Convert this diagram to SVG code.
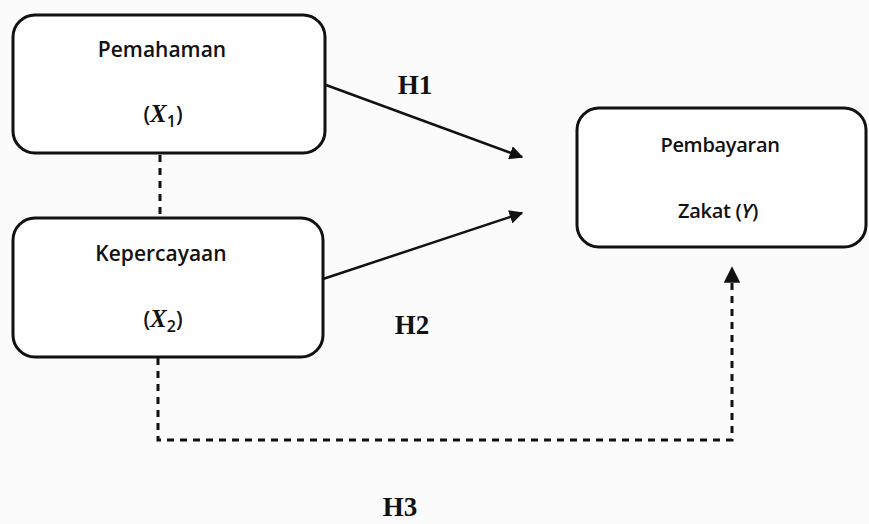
<svg xmlns="http://www.w3.org/2000/svg" width="869" height="524" viewBox="0 0 869 524">
<defs>
<marker id="ah" viewBox="0 0 10 10" refX="9" refY="5" markerWidth="5.5" markerHeight="5.5" orient="auto" markerUnits="strokeWidth">
<path d="M0,0 L10,5 L0,10 z" fill="#111"/>
</marker>
<style>
.box{fill:#fff;stroke:#111;stroke-width:3}
.lbl{font-family:"Open Sans","Liberation Sans",sans-serif;font-size:21px;font-weight:600;fill:#111;text-anchor:middle}
.lblS{font-family:"Open Sans","Liberation Sans",sans-serif;font-size:20px;font-weight:600;fill:#111;text-anchor:middle;letter-spacing:-0.3px}
.h{font-family:"Liberation Serif",serif;font-size:27px;font-weight:bold;fill:#111;text-anchor:middle}
.solid{fill:none;stroke:#111;stroke-width:2.5}
.dash{fill:none;stroke:#111;stroke-width:3;stroke-dasharray:7,6}
</style>
</defs>
<rect width="869" height="524" fill="#fbfbfb"/>
<g id="connectors">
<line class="solid" x1="326" y1="85" x2="522" y2="157" marker-end="url(#ah)"/>
<line class="solid" x1="323" y1="279" x2="522" y2="213" marker-end="url(#ah)"/>
<line class="dash" x1="160" y1="155" x2="160" y2="217"/>
<polyline class="dash" points="158,358 158,440 732,440 732,268" marker-end="url(#ah)"/>
</g>
<g id="n1">
<rect class="box" x="13" y="15" width="312" height="138" rx="22"/>
<text class="lbl" x="162" y="57">Pemahaman</text>
<text class="lbl" x="163" y="122">(<tspan font-style="italic" font-family="Liberation Serif, serif" font-size="25">X</tspan><tspan font-size="16" dy="5">1</tspan><tspan dy="-5">)</tspan></text>
</g>
<g id="n2">
<rect class="box" x="13" y="218" width="310" height="139" rx="22"/>
<text class="lbl" x="161" y="261">Kepercayaan</text>
<text class="lbl" x="163" y="327">(<tspan font-style="italic" font-family="Liberation Serif, serif" font-size="25">X</tspan><tspan font-size="16" dy="5">2</tspan><tspan dy="-5">)</tspan></text>
</g>
<g id="n3">
<rect class="box" x="577" y="108" width="289" height="139" rx="22"/>
<text class="lblS" x="720" y="152">Pembayaran</text>
<text class="lblS" x="718" y="218">Zakat (<tspan font-style="italic">Y</tspan>)</text>
</g>
<g id="labels">
<text class="h" x="415" y="94">H1</text>
<text class="h" x="412" y="334">H2</text>
<text class="h" x="400" y="516">H3</text>
</g>
</svg>
